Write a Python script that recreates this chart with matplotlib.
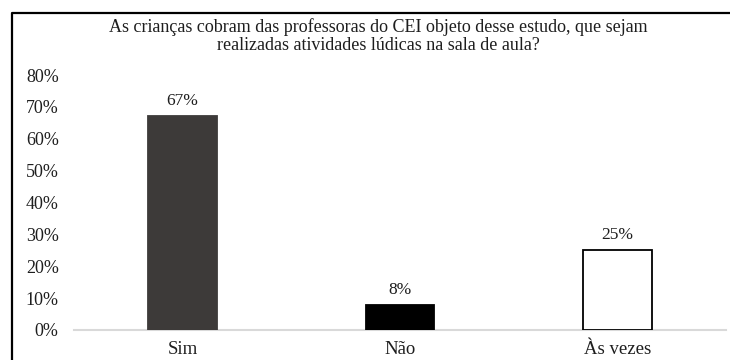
import matplotlib
matplotlib.use("Agg")
import matplotlib.pyplot as plt
from matplotlib.lines import Line2D

categorias = ["Sim", "Não", "Às vezes"]
percentuais = [67, 8, 25]
cores = ["#3d3a39", "#000000", "#ffffff"]
yticks = [0, 10, 20, 30, 40, 50, 60, 70, 80]
titulo = ("As crianças cobram das professoras do CEI objeto desse estudo, que sejam\n"
          "realizadas atividades lúdicas na sala de aula?")

plt.rcParams['font.family'] = ['Liberation Serif', 'DejaVu Serif']

fig = plt.figure(figsize=(7.3, 3.6), dpi=100)
ax = fig.add_axes([74 / 730, 30 / 360, 652 / 730, 255 / 360])

x = range(len(categorias))
ax.bar(x, percentuais, width=0.315, color=cores, edgecolor=["#3d3a39", "#000000", "#000000"],
       linewidth=1.3, zorder=3)

for i, v in enumerate(percentuais):
    ax.annotate(f"{v}%", (i, v), xytext=(0, 5), textcoords="offset points",
                ha="center", va="bottom", fontsize=12.5, color="#1e1e1e")

ax.set_xlim(-0.5, 2.5)
ax.set_ylim(0, 80)
ax.set_yticks(yticks)
ax.set_yticklabels([f"{t}%" for t in yticks])
ax.set_xticks(list(x))
ax.set_xticklabels(categorias)
ax.tick_params(axis="y", length=0, pad=11, labelsize=13, labelcolor="#1e1e1e")
ax.tick_params(axis="x", length=0, pad=8, labelsize=13.5, labelcolor="#1e1e1e")

for side in ["top", "right", "left"]:
    ax.spines[side].set_visible(False)
ax.spines["bottom"].set_color("#d9d9d9")
ax.spines["bottom"].set_linewidth(1.5)

fig.text(378 / 730, 1 - 36 / 360, titulo, ha="center", va="center",
         fontsize=13, color="#1e1e1e", linespacing=1.05)

# moldura: só as bordas de cima e da esquerda aparecem
fx, fy = 11.5 / 730, 1 - 12.5 / 360
fig.add_artist(Line2D([fx, fx, 1.0], [0.0, fy, fy], transform=fig.transFigure,
                      color="black", linewidth=1.6))

fig.savefig("out.png", dpi=100)
